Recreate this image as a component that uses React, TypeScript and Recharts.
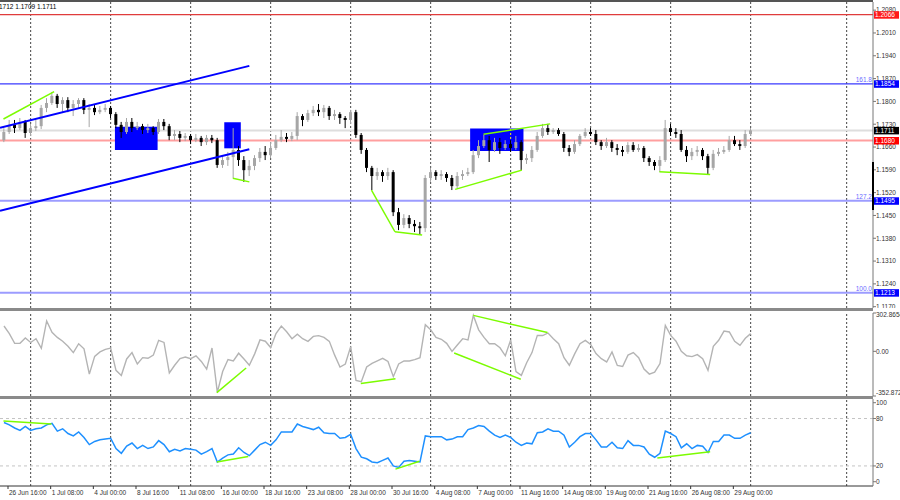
import React from 'react';
import { ComposedChart, Bar, Line, XAxis, YAxis, ReferenceLine, ReferenceArea } from 'recharts';

// H4 EURUSD, two H4 bars per candle: [open, high, low, close]
const BARS: [number, number, number, number][] = [
  [1.1681, 1.1718, 1.1675, 1.1706], [1.1706, 1.1743, 1.1700, 1.1728], [1.1728, 1.1743, 1.1703, 1.1718], [1.1718, 1.1749, 1.1712, 1.1737],
  [1.1737, 1.1743, 1.1688, 1.1703], [1.1703, 1.1731, 1.1694, 1.1718], [1.1718, 1.1743, 1.1709, 1.1724], [1.1724, 1.1789, 1.1715, 1.1780],
  [1.1780, 1.1810, 1.1767, 1.1795], [1.1795, 1.1829, 1.1789, 1.1817], [1.1817, 1.1823, 1.1780, 1.1792], [1.1792, 1.1813, 1.1767, 1.1804],
  [1.1804, 1.1813, 1.1767, 1.1780], [1.1780, 1.1804, 1.1755, 1.1792], [1.1792, 1.1810, 1.1780, 1.1804], [1.1804, 1.1810, 1.1761, 1.1774],
  [1.1774, 1.1792, 1.1721, 1.1780], [1.1780, 1.1792, 1.1758, 1.1767], [1.1767, 1.1786, 1.1761, 1.1774], [1.1774, 1.1792, 1.1767, 1.1780],
  [1.1780, 1.1786, 1.1749, 1.1761], [1.1761, 1.1767, 1.1718, 1.1728], [1.1728, 1.1737, 1.1688, 1.1706], [1.1706, 1.1749, 1.1700, 1.1737],
  [1.1737, 1.1749, 1.1706, 1.1718], [1.1718, 1.1737, 1.1712, 1.1724], [1.1724, 1.1731, 1.1700, 1.1712], [1.1712, 1.1731, 1.1703, 1.1718],
  [1.1718, 1.1724, 1.1697, 1.1706], [1.1706, 1.1746, 1.1700, 1.1737], [1.1737, 1.1746, 1.1712, 1.1724], [1.1724, 1.1731, 1.1681, 1.1694],
  [1.1694, 1.1712, 1.1681, 1.1700], [1.1700, 1.1709, 1.1675, 1.1688], [1.1688, 1.1703, 1.1678, 1.1694], [1.1694, 1.1700, 1.1669, 1.1681],
  [1.1681, 1.1700, 1.1675, 1.1688], [1.1688, 1.1694, 1.1663, 1.1675], [1.1675, 1.1697, 1.1666, 1.1688], [1.1688, 1.1697, 1.1672, 1.1681],
  [1.1681, 1.1688, 1.1596, 1.1605], [1.1605, 1.1632, 1.1596, 1.1620], [1.1620, 1.1645, 1.1602, 1.1629], [1.1629, 1.1718, 1.1565, 1.1651],
  [1.1651, 1.1663, 1.1602, 1.1620], [1.1620, 1.1632, 1.1553, 1.1589], [1.1589, 1.1620, 1.1571, 1.1602], [1.1602, 1.1635, 1.1589, 1.1626],
  [1.1626, 1.1657, 1.1614, 1.1645], [1.1645, 1.1663, 1.1620, 1.1635], [1.1635, 1.1675, 1.1626, 1.1657], [1.1657, 1.1697, 1.1651, 1.1681],
  [1.1681, 1.1712, 1.1675, 1.1691], [1.1691, 1.1703, 1.1675, 1.1685], [1.1685, 1.1706, 1.1678, 1.1694], [1.1694, 1.1767, 1.1681, 1.1755],
  [1.1755, 1.1761, 1.1724, 1.1743], [1.1743, 1.1774, 1.1737, 1.1764], [1.1764, 1.1786, 1.1755, 1.1774], [1.1774, 1.1792, 1.1755, 1.1767],
  [1.1767, 1.1789, 1.1749, 1.1780], [1.1780, 1.1786, 1.1743, 1.1755], [1.1755, 1.1774, 1.1743, 1.1761], [1.1761, 1.1767, 1.1731, 1.1749],
  [1.1749, 1.1755, 1.1718, 1.1743], [1.1743, 1.1774, 1.1731, 1.1767], [1.1767, 1.1774, 1.1688, 1.1697], [1.1697, 1.1703, 1.1639, 1.1651],
  [1.1651, 1.1657, 1.1583, 1.1596], [1.1596, 1.1602, 1.1528, 1.1571], [1.1571, 1.1596, 1.1559, 1.1583], [1.1583, 1.1589, 1.1553, 1.1571],
  [1.1571, 1.1596, 1.1559, 1.1583], [1.1583, 1.1589, 1.1448, 1.1460], [1.1460, 1.1473, 1.1405, 1.1421], [1.1421, 1.1454, 1.1411, 1.1442],
  [1.1442, 1.1451, 1.1411, 1.1424], [1.1424, 1.1436, 1.1399, 1.1417], [1.1417, 1.1430, 1.1390, 1.1411], [1.1411, 1.1574, 1.1399, 1.1565],
  [1.1565, 1.1596, 1.1553, 1.1583], [1.1583, 1.1589, 1.1559, 1.1571], [1.1571, 1.1589, 1.1559, 1.1577], [1.1577, 1.1583, 1.1553, 1.1565],
  [1.1565, 1.1574, 1.1528, 1.1540], [1.1540, 1.1583, 1.1534, 1.1571], [1.1571, 1.1589, 1.1559, 1.1577], [1.1577, 1.1596, 1.1571, 1.1583],
  [1.1583, 1.1651, 1.1577, 1.1635], [1.1635, 1.1681, 1.1626, 1.1663], [1.1663, 1.1697, 1.1657, 1.1681], [1.1681, 1.1694, 1.1614, 1.1651],
  [1.1651, 1.1688, 1.1645, 1.1675], [1.1675, 1.1688, 1.1639, 1.1657], [1.1657, 1.1681, 1.1651, 1.1669], [1.1669, 1.1681, 1.1645, 1.1657],
  [1.1657, 1.1694, 1.1651, 1.1675], [1.1675, 1.1681, 1.1589, 1.1620], [1.1620, 1.1639, 1.1608, 1.1626], [1.1626, 1.1663, 1.1614, 1.1651],
  [1.1651, 1.1706, 1.1645, 1.1694], [1.1694, 1.1731, 1.1688, 1.1718], [1.1718, 1.1731, 1.1697, 1.1706], [1.1706, 1.1718, 1.1700, 1.1712],
  [1.1712, 1.1718, 1.1694, 1.1700], [1.1700, 1.1706, 1.1645, 1.1657], [1.1657, 1.1666, 1.1632, 1.1645], [1.1645, 1.1681, 1.1639, 1.1669],
  [1.1669, 1.1700, 1.1663, 1.1694], [1.1694, 1.1718, 1.1688, 1.1706], [1.1706, 1.1718, 1.1694, 1.1700], [1.1700, 1.1712, 1.1666, 1.1675],
  [1.1675, 1.1681, 1.1651, 1.1663], [1.1663, 1.1688, 1.1657, 1.1675], [1.1675, 1.1681, 1.1645, 1.1657], [1.1657, 1.1669, 1.1635, 1.1651],
  [1.1651, 1.1663, 1.1632, 1.1645], [1.1645, 1.1675, 1.1639, 1.1666], [1.1666, 1.1675, 1.1645, 1.1651], [1.1651, 1.1669, 1.1645, 1.1657],
  [1.1657, 1.1663, 1.1614, 1.1626], [1.1626, 1.1632, 1.1602, 1.1614], [1.1614, 1.1620, 1.1589, 1.1602], [1.1602, 1.1632, 1.1583, 1.1620],
  [1.1620, 1.1743, 1.1614, 1.1718], [1.1718, 1.1731, 1.1694, 1.1706], [1.1706, 1.1718, 1.1688, 1.1700], [1.1700, 1.1712, 1.1645, 1.1651],
  [1.1651, 1.1663, 1.1614, 1.1632], [1.1632, 1.1657, 1.1620, 1.1645], [1.1645, 1.1663, 1.1632, 1.1651], [1.1651, 1.1657, 1.1620, 1.1632],
  [1.1632, 1.1639, 1.1577, 1.1596], [1.1596, 1.1651, 1.1589, 1.1639], [1.1639, 1.1657, 1.1632, 1.1645], [1.1645, 1.1663, 1.1639, 1.1651],
  [1.1651, 1.1694, 1.1645, 1.1681], [1.1681, 1.1694, 1.1663, 1.1669], [1.1669, 1.1681, 1.1651, 1.1663], [1.1663, 1.1712, 1.1657, 1.1700],
  [1.1700, 1.1718, 1.1694, 1.1711],
];

const CCI = [
  200, 140, 63, 63, 105, 70, 100, 24, 240, 150,
  110, 80, 40, -10, 60, 20, -180, -40, -5, 15,
  26, -150, -190, -60, -10, -100, -50, -55, -30, 87,
  70, -170, -110, -58, -45, -58, -35, -80, -140, 26,
  -324, -160, -65, -76, -15, -60, -110, -20, 90, 80,
  30, 140, 200, 155, 100, 135, 100, 79, 118, 124,
  110, 79, -30, -124, -100, 37, -229, -240, -124, -95,
  -75, -55, -80, -200, -100, -76, -76, -65, -50, 210,
  170, 110, 95, 63, 0, 50, 100, 90, 284, 170,
  110, 60, 60, 28, -35, 90, -160, -190, -90, -10,
  126, 125, 145, 100, 60, -50, -110, -20, 60, 87,
  55, -18, -58, -84, -5, -111, -120, -30, -10, -50,
  -140, -180, -165, -97, 205, 126, 80, 0, -35, -42,
  -26, -58, -150, 40, 87, 160, 153, 79, 47, 103,
  140,
];

const RSI = [
  75, 72, 68, 65, 70, 65, 67, 68, 72, 74,
  64, 67, 61, 58, 63, 56, 47, 51, 53, 54,
  55, 42, 36, 45, 49, 42, 46, 42, 44, 52,
  47, 38, 41, 39, 42, 41, 40, 35, 38, 42,
  25, 30, 34, 35, 43, 37, 33, 40, 47, 50,
  46, 53, 63, 63, 63, 73, 70, 68, 66, 69,
  62, 61, 61, 55, 56, 60, 42, 31, 29, 25,
  24, 27, 30, 20, 18, 26, 27, 26, 25, 58,
  57, 57, 57, 53, 54, 57, 57, 66, 68, 71,
  70, 64, 59, 56, 59, 56, 50, 46, 49, 48,
  62, 63, 67, 64, 64, 59, 44, 50, 57, 61,
  61, 53, 44, 44, 50, 43, 42, 52, 46, 46,
  44, 35, 31, 36, 64, 61, 57, 43, 48, 42,
  46, 45, 37, 51, 51, 59, 59, 55, 55, 59,
  62,
];

const PRICE_TICKS = [1.208, 1.201, 1.194, 1.187, 1.18, 1.173, 1.166, 1.159, 1.152, 1.145, 1.138, 1.131, 1.124, 1.117];
const CCI_TICKS = [302.8654, 0, -352.872];
const RSI_TICKS = [100, 80, 20, 0];

const DATE_TICKS = [0.75, 8.75, 16.75, 24.75, 32.75, 40.75, 48.75, 56.75, 64.75, 72.75, 80.75, 88.75, 96.75, 104.75, 112.75, 120.75, 128.75, 136.75];
const DATE_LABELS = [
  '26 Jun 16:00', '1 Jul 08:00', '4 Jul 00:00', '8 Jul 16:00', '11 Jul 08:00', '16 Jul 00:00',
  '18 Jul 16:00', '23 Jul 08:00', '28 Jul 00:00', '30 Jul 16:00', '4 Aug 08:00', '7 Aug 00:00',
  '11 Aug 16:00', '14 Aug 08:00', '19 Aug 00:00', '21 Aug 16:00', '26 Aug 08:00', '29 Aug 00:00',
];
const WEEK_GRID = [5, 20, 35, 50, 65, 80, 95, 110, 125, 140, 158];

// levels
const RESISTANCE = 1.2066;
const FIB_161 = 1.1854;
const BID = 1.1711;
const SUPPORT = 1.168;
const FIB_127 = 1.1495;
const FIB_100 = 1.1213;

// drawn objects: [x1, y1, x2, y2] in bar index / value
const CHANNEL = [
  [-0.75, 1.1719, 46.0, 1.1909],
  [-0.75, 1.1464, 46.0, 1.1653],
];
const PRICE_DIV = [
  [-0.1, 1.1746, 9.4, 1.183],
  [42.9, 1.1564, 46.0, 1.1553],
  [68.9, 1.1528, 73.3, 1.14],
  [73.3, 1.14, 78.4, 1.139],
  [84.6, 1.153, 97.1, 1.1589],
  [89.9, 1.1699, 102.4, 1.1731],
  [122.9, 1.1584, 132.4, 1.1576],
];
const CCI_DIV = [
  [39.9, -326, 45.4, -132],
  [66.9, -255, 73.4, -216],
  [88.0, 284, 101.9, 148],
  [84.4, -13, 96.9, -221],
];
const RSI_DIV = [
  [-0.1, 77, 8.9, 73],
  [39.9, 25, 45.8, 32],
  [73.4, 16, 77.9, 26],
  [122.5, 30, 132.4, 38],
];
// [x1, x2, y1, y2]
const BOXES = [
  [20.8, 28.8, 1.1651, 1.1722],
  [41.3, 44.4, 1.1656, 1.1736],
  [87.4, 97.4, 1.1648, 1.1717],
];

const FONT = '"Liberation Sans", Arial, sans-serif';
const X_DOMAIN: [number, number] = [-0.75, 162.9375];
const PRICE_DOMAIN: [number, number] = [1.1166, 1.2105];
const CCI_DOMAIN: [number, number] = [-352.872, 302.8654];
const RSI_DOMAIN: [number, number] = [-5.4, 104.7];
const GREEN = '#7cfc00';

const rows = BARS.map(([o, h, l, c], i) => ({ i, o, h, l, c, range: [l, h], cci: CCI[i], rsi: RSI[i] }));

const Candle = (props: any) => {
  const { x, y, width, height, payload } = props;
  if (x == null || y == null || !payload) return null;
  const top = Math.min(y, y + height);
  const span = Math.abs(height);
  const { o, h, l, c } = payload;
  const k = h > l ? span / (h - l) : 0;
  const py = (v: number) => top + (h - v) * k;
  const color = c >= o ? '#a6a6a6' : '#000000';
  const cx = x + width / 2;
  const bt = py(Math.max(o, c));
  const bb = py(Math.min(o, c));
  return (
    <g>
      <line x1={cx} x2={cx} y1={top} y2={top + span} stroke={color} strokeWidth={1} />
      <rect x={x} y={bt} width={width} height={Math.max(1, bb - bt)} fill={color} />
    </g>
  );
};

const axisTick = (fmt: (v: number) => string, nudge?: (v: number) => number) => (p: any) => (
  <text x={p.x} y={p.y} dy={2.3 + (nudge ? nudge(p.payload.value) : 0)} fontSize={6.5} fontFamily={FONT} fill="#333" textAnchor="start">
    {fmt(p.payload.value)}
  </text>
);

const dateTick = (p: any) => (
  <text x={p.x + 1} y={p.y} dy={6} fontSize={6.5} fontFamily={FONT} fill="#333" textAnchor="start">
    {DATE_LABELS[DATE_TICKS.indexOf(p.payload.value)]}
  </text>
);

const PriceTag = (props: any) => {
  const { viewBox, text, bg, fib } = props;
  if (!viewBox) return null;
  const right = viewBox.x + viewBox.width;
  const y = viewBox.y;
  return (
    <g>
      {fib && (
        <text x={right - 1} y={y - 2} textAnchor="end" fontSize={6.5} fontFamily={FONT} fill="#6b6bff">
          {fib}
        </text>
      )}
      <rect x={right + 1} y={y - 3.5} width={25} height={7.5} fill={bg} />
      <text x={right + 2} y={y} dy={2.3} fontSize={6.5} fontFamily={FONT} fill="#ffffff">
        {text}
      </text>
    </g>
  );
};

const gridLines = () =>
  WEEK_GRID.map((g) => <ReferenceLine key={'g' + g} x={g} stroke="#444" strokeDasharray="2 2" strokeWidth={1} ifOverflow="visible" />);

const segs = (list: number[][], color: string, w: number, key: string) =>
  list.map(([x1, y1, x2, y2], n) => (
    <ReferenceLine key={key + n} segment={[{ x: x1, y: y1 }, { x: x2, y: y2 }]} stroke={color} strokeWidth={w} ifOverflow="visible" />
  ));

const abs = (top: number, h: number): React.CSSProperties => ({ position: 'absolute', left: 0, top, width: 900, height: h });

const MainAxes = () => [
  <XAxis key="x" dataKey="i" type="number" domain={X_DOMAIN} hide allowDataOverflow />,
  <YAxis key="y" orientation="right" width={27} domain={PRICE_DOMAIN} allowDataOverflow tick={false} tickLine={false} axisLine={false} />,
];

export default function App() {
  const m = { top: 2, right: 0, bottom: 0, left: 0 };
  return (
    <div style={{ position: 'absolute', left: 0, top: 0, width: 900, height: 500, background: '#fff', overflow: 'hidden' }}>
      {/* main pane: axis, grid, levels */}
      <div style={abs(0, 308)}>
        <ComposedChart width={900} height={308} data={rows} margin={m}>
          <XAxis dataKey="i" type="number" domain={X_DOMAIN} hide allowDataOverflow />
          <YAxis
            orientation="right"
            width={27}
            domain={PRICE_DOMAIN}
            ticks={PRICE_TICKS}
            interval={0}
            allowDataOverflow
            tickSize={3}
            tickMargin={0}
            tickLine={{ stroke: '#777' }}
            axisLine={{ stroke: '#777' }}
            tick={axisTick((v) => v.toFixed(4))}
          />
          {gridLines()}
          <ReferenceLine y={RESISTANCE} stroke="#e03c3c" strokeWidth={1.3} />
          <ReferenceLine y={FIB_161} stroke="#3a3aff" strokeWidth={1.2} />
          <ReferenceLine y={BID} stroke="#dedede" strokeWidth={2} />
          <ReferenceLine y={SUPPORT} stroke="#ff9f9f" strokeWidth={2} />
          <ReferenceLine y={FIB_127} stroke="#9c9cff" strokeWidth={2} />
          <ReferenceLine y={FIB_100} stroke="#9c9cff" strokeWidth={2} />
        </ComposedChart>
      </div>

      {/* main pane: rectangles */}
      <div style={abs(0, 308)}>
        <ComposedChart width={900} height={308} data={rows} margin={m}>
          {MainAxes()}
          {BOXES.map(([x1, x2, y1, y2], n) => (
            <ReferenceArea key={'b' + n} x1={x1} x2={x2} y1={y1} y2={y2} fill="#0000ff" fillOpacity={1} stroke="none" />
          ))}
          <ReferenceLine segment={[{ x: 95, y: 1.1648 }, { x: 95, y: 1.1717 }]} stroke="#ffff00" strokeDasharray="2 2" />
        </ComposedChart>
      </div>

      {/* main pane: candles and drawings */}
      <div style={abs(0, 308)}>
        <ComposedChart width={900} height={308} data={rows} margin={m}>
          {MainAxes()}
          <Bar dataKey="range" barSize={3} isAnimationActive={false} shape={(p: any) => <Candle {...p} />} />
          {segs(CHANNEL, '#0000ff', 2, 'ch')}
          {segs(PRICE_DIV, GREEN, 1.5, 'pd')}
          <ReferenceLine y={RESISTANCE} strokeOpacity={0} label={<PriceTag text={RESISTANCE.toFixed(4)} bg="#ff1a1a" />} />
          <ReferenceLine y={FIB_161} strokeOpacity={0} label={<PriceTag text={FIB_161.toFixed(4)} bg="#0000ff" fib="161.8" />} />
          <ReferenceLine y={BID} strokeOpacity={0} label={<PriceTag text={BID.toFixed(4)} bg="#000000" />} />
          <ReferenceLine y={SUPPORT} strokeOpacity={0} label={<PriceTag text={SUPPORT.toFixed(4)} bg="#ff0000" />} />
          <ReferenceLine y={FIB_127} strokeOpacity={0} label={<PriceTag text={FIB_127.toFixed(4)} bg="#0000ff" fib="127.2" />} />
          <ReferenceLine y={FIB_100} strokeOpacity={0} label={<PriceTag text={FIB_100.toFixed(4)} bg="#0000ff" fib="100.0" />} />
        </ComposedChart>
      </div>

      {/* CCI pane */}
      <div style={abs(311, 86)}>
        <ComposedChart width={900} height={86} data={rows} margin={{ top: 2, right: 0, bottom: 1, left: 0 }}>
          <XAxis dataKey="i" type="number" domain={X_DOMAIN} hide allowDataOverflow />
          <YAxis
            orientation="right"
            width={27}
            domain={CCI_DOMAIN}
            ticks={CCI_TICKS}
            interval={0}
            allowDataOverflow
            tickSize={3}
            tickMargin={0}
            tickLine={{ stroke: '#777' }}
            axisLine={{ stroke: '#777' }}
            tick={axisTick(
              (v) => (v === 0 ? '0.00' : String(v)),
              (v) => (v > 0 ? 2 : v < 0 ? -3.5 : 0),
            )}
          />
          {gridLines()}
          <Line dataKey="cci" stroke="#b4b4b4" strokeWidth={1.4} dot={false} isAnimationActive={false} />
          {segs(CCI_DIV, GREEN, 1.5, 'cd')}
        </ComposedChart>
      </div>

      {/* RSI pane */}
      <div style={abs(399, 101)}>
        <ComposedChart width={900} height={101} data={rows} margin={{ top: 0, right: 0, bottom: 0, left: 0 }}>
          <XAxis
            dataKey="i"
            type="number"
            domain={X_DOMAIN}
            allowDataOverflow
            ticks={DATE_TICKS}
            interval={0}
            height={14}
            tickSize={3}
            tickMargin={0}
            tickLine={{ stroke: '#333' }}
            axisLine={{ stroke: '#333' }}
            tick={dateTick}
          />
          <YAxis
            orientation="right"
            width={27}
            domain={RSI_DOMAIN}
            ticks={RSI_TICKS}
            interval={0}
            allowDataOverflow
            tickSize={3}
            tickMargin={0}
            tickLine={{ stroke: '#777' }}
            axisLine={{ stroke: '#777' }}
            tick={axisTick((v) => String(v))}
          />
          {gridLines()}
          <ReferenceLine y={80} stroke="#c4c4c4" strokeDasharray="3 3" />
          <ReferenceLine y={20} stroke="#c4c4c4" strokeDasharray="3 3" />
          <Line dataKey="rsi" stroke="#1e90ff" strokeWidth={1.5} dot={false} isAnimationActive={false} />
          {segs(RSI_DIV, GREEN, 1.5, 'rd')}
        </ComposedChart>
      </div>

      {/* window frame */}
      <div style={{ position: 'absolute', left: 0, top: 0, width: 873, height: 2, background: '#555' }} />
      <div style={{ position: 'absolute', left: 0, top: 308, width: 873, height: 3, background: '#8a8a8a' }} />
      <div style={{ position: 'absolute', left: 0, top: 396, width: 873, height: 3, background: '#8a8a8a' }} />
      <div style={{ position: 'absolute', left: 872, top: 162, width: 2, height: 48, background: '#000' }} />
      <div style={{ position: 'absolute', left: -1, top: 3, fontSize: 6.5, lineHeight: '8px', fontFamily: FONT, color: '#000' }}>
        1712 1.1709 1.1711
      </div>
    </div>
  );
}
